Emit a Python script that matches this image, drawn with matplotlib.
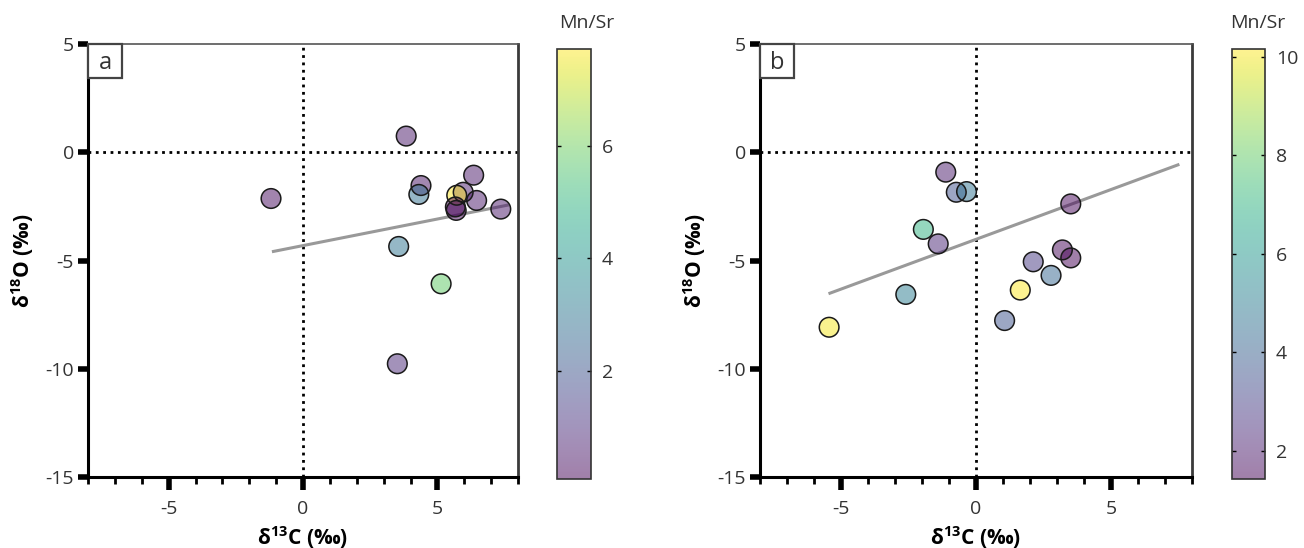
import numpy as np
import matplotlib
matplotlib.use("Agg")
import matplotlib.pyplot as plt
from matplotlib.patches import Rectangle

plt.rcParams['font.family'] = ['Open Sans', 'DejaVu Sans']
plt.rcParams['mathtext.fontset'] = 'custom'
plt.rcParams['mathtext.rm'] = 'Open Sans'
plt.rcParams['mathtext.bf'] = 'Open Sans:bold'
plt.rcParams['axes.unicode_minus'] = False

# panel a
c13_a = [-1.19, 3.84, 4.39, 4.31, 6.35, 5.96, 5.72, 6.46, 5.67, 5.70, 7.36, 3.56, 5.14, 3.51]
o18_a = [-2.13, 0.76, -1.53, -1.94, -1.05, -1.84, -1.98, -2.22, -2.52, -2.68, -2.62, -4.35, -6.08, -9.78]
mnsr_a = [0.3, 0.5, 0.4, 2.8, 0.5, 0.6, 7.72, 0.5, 0.08, 0.2, 0.5, 3.0, 5.8, 0.9]
fit_a = dict(slope=0.246, intercept=-4.31, xmin=-1.1, xmax=7.6)

# panel b
c13_b = [-1.12, -0.73, -0.35, 3.51, -1.95, -1.40, 3.20, 3.51, 2.12, 2.78, 1.64, -2.60, 1.06, -5.44]
o18_b = [-0.91, -1.84, -1.81, -2.38, -3.56, -4.23, -4.51, -4.88, -5.06, -5.69, -6.37, -6.57, -7.78, -8.09]
mnsr_b = [2.0, 3.5, 4.7, 1.6, 7.0, 2.3, 1.5, 1.43, 2.8, 4.2, 10.16, 5.0, 3.6, 10.0]
fit_b = dict(slope=0.461, intercept=-4.02, xmin=-5.41, xmax=7.48)

cb_ticks_a = [2, 4, 6]
cb_ticks_b = [2, 4, 6, 8, 10]

fig = plt.figure(figsize=(13.04, 5.48), dpi=100)

W, H = 1304, 548
def px(l, t, r, b):
    return [l / W, (H - b) / H, (r - l) / W, (b - t) / H]

panels = [
    ('a', c13_a, o18_a, mnsr_a, fit_a, cb_ticks_a, px(88, 44.5, 518, 476.5), px(557, 49, 591, 479), 0.88),
    ('b', c13_b, o18_b, mnsr_b, fit_b, cb_ticks_b, px(760, 44.5, 1192, 476.5), px(1232, 49, 1265, 479), 0.78),
]

for name, x, y, c, fit, cbt, apos, cpos, tx in panels:
    ax = fig.add_axes(apos)
    ax.set_xlim(-8, 8)
    ax.set_ylim(-15, 5)

    ax.axhline(0, color='black', ls=':', lw=2, zorder=1)
    ax.axvline(0, color='black', ls=':', lw=2, zorder=1)

    xf = np.array([fit['xmin'], fit['xmax']])
    ax.plot(xf, fit['intercept'] + fit['slope'] * xf, color='#999999', lw=2.2, zorder=2)

    sc = ax.scatter(x, y, c=c, cmap='viridis', s=200, alpha=0.5, linewidths=0, zorder=3)
    ax.scatter(x, y, s=200, facecolors='none', edgecolors='#1a1a1a', linewidths=1.1, zorder=4)

    ax.set_xticks([-5, 0, 5])
    ax.set_xticks(np.arange(-8, 9, 1), minor=True)
    ax.set_yticks([-15, -10, -5, 0, 5])
    ax.tick_params(axis='both', which='major', labelsize=14, colors='black', labelcolor='#333333')
    ax.tick_params(axis='x', which='major', length=9, width=2, pad=8)
    ax.tick_params(axis='x', which='minor', length=5, width=2)
    ax.tick_params(axis='y', which='major', length=7, width=2, pad=3)
    # heavier tick at zero
    for t in ax.xaxis.get_major_ticks():
        if abs(t.get_loc()) < 1e-9:
            t.tick1line.set_markeredgewidth(4)
    for t in ax.yaxis.get_major_ticks():
        if abs(t.get_loc()) < 1e-9:
            t.tick1line.set_markeredgewidth(4)

    for side in ['left', 'bottom']:
        ax.spines[side].set_linewidth(2.2)
        ax.spines[side].set_color('black')
    ax.spines['right'].set_linewidth(2.0)
    ax.spines['right'].set_color('#3a3a3a')
    ax.spines['top'].set_linewidth(1.2)
    ax.spines['top'].set_color('#555555')

    ax.set_xlabel(r'δ$^{\mathbf{13}}$C (‰)', fontsize=15, fontweight='bold', labelpad=4)
    ax.set_ylabel(r'δ$^{\mathbf{18}}$O (‰)', fontsize=15, fontweight='bold', labelpad=7)

    bw, bh = 34 / 430, 34 / 432
    ax.add_patch(Rectangle((0, 1 - bh), bw, bh, transform=ax.transAxes, fc='white',
                           ec='#444444', lw=1.6, zorder=6, clip_on=False))
    ax.text(bw / 2, 1 - bh / 2 - 0.004, name, transform=ax.transAxes, ha='center', va='center',
            fontsize=17, color='#333333', zorder=7)

    cax = fig.add_axes(cpos)
    cb = fig.colorbar(sc, cax=cax, ticks=cbt)
    cb.outline.set_linewidth(1.2)
    cb.outline.set_edgecolor('#333333')
    cax.tick_params(direction='in', left=True, right=True, length=3, width=1,
                    labelsize=14, labelcolor='#333333', pad=8)
    cax.text(tx, 1.04, 'Mn/Sr', transform=cax.transAxes, ha='center', va='bottom',
             fontsize=14, color='#333333')

fig.savefig('out.png', dpi=100)
